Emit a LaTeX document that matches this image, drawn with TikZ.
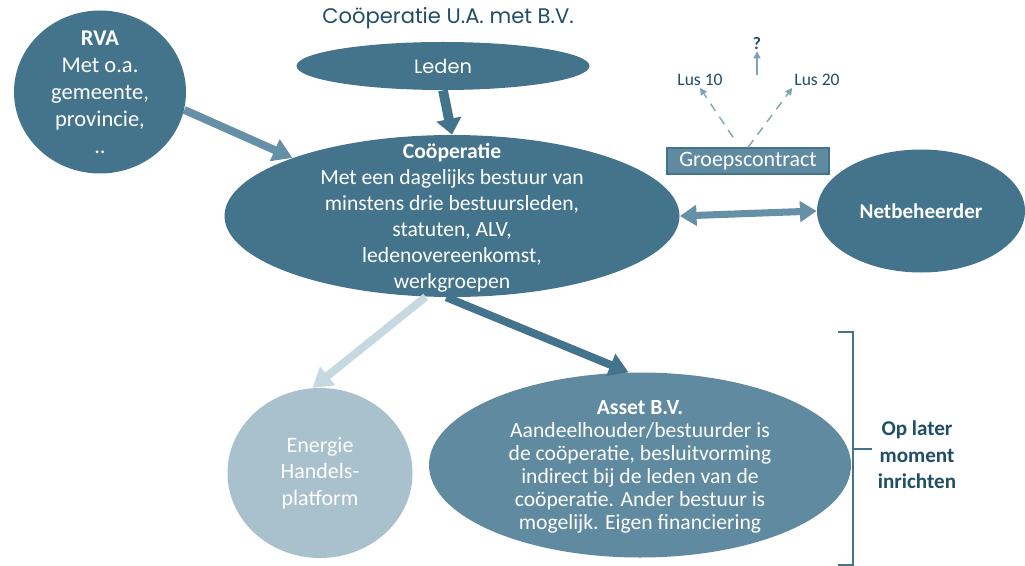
\documentclass[tikz,border=0pt]{standalone}
\usepackage{fontspec}
\setmainfont{Carlito}
\newfontfamily\poppins{Poppins}
\usetikzlibrary{arrows.meta,shapes.geometric,positioning}
\definecolor{inkblue}{HTML}{1F4E66}
\definecolor{coopblue}{HTML}{44748C}
\definecolor{assetblue}{HTML}{5F8AA0}
\definecolor{arrowblue}{HTML}{6590A6}
\definecolor{paleblue}{HTML}{A9C1CC}
\definecolor{palearrow}{HTML}{C6D9E1}
\definecolor{dashblue}{HTML}{7FA3B6}
\tikzset{
    blob/.style={
    ellipse,fill=coopblue,inner sep=0pt
    },
    blobtext/.style={
    align=center,text=white,inner sep=0pt,font=\fontsize{12.3}{14.8}\selectfont
    },
    fat/.style={
    line width=4.5pt,draw=arrowblue,-{Triangle[length=11pt,width=13pt]}
    },
    loop/.style={
    dashed,dash pattern=on 5pt off 4pt,line width=0.8pt,draw=dashblue,-{Triangle[length=4pt,width=4pt]}
    },
    lusname/.style={
    text=inkblue,font=\fontsize{10}{12}\selectfont,inner sep=1pt
    },
}
\begin{document}
\begin{tikzpicture}
  \useasboundingbox (0,0) rectangle (20.5,-11.32);
  \node[text=inkblue,font=\poppins\fontsize{12}{14}\selectfont] (title) at (8.96,-0.36) {Coöperatie U.A. met B.V.};

  \node[blob,minimum width=3.44cm,minimum height=3.26cm] (rva) at (2.0,-1.84) {};
  \node[blobtext,font=\fontsize{12.8}{15.4}\selectfont] (rvatext) at (rva) {\textbf{RVA}\\Met o.a.\\gemeente,\\provincie,\\..};

  \node[blob,minimum width=5.86cm,minimum height=0.96cm] (leden) at (8.86,-1.32) {};
  \node[blobtext,font=\poppins\fontsize{11}{13}\selectfont] (ledentext) at (leden) {Leden};

  \node[blob,minimum width=9.1cm,minimum height=3.24cm] (coop) at (9.04,-4.32) {};
  \node[blobtext] (cooptext) at (9.04,-4.36) {\textbf{Coöperatie}\\Met een dagelijks bestuur van\\minstens drie bestuursleden,\\statuten, ALV,\\ledenovereenkomst,\\werkgroepen};

  \node[blob,minimum width=4.16cm,minimum height=2.46cm] (net) at (18.42,-4.22) {};
  \node[blobtext,font=\bfseries\fontsize{12}{15}\selectfont] (nettext) at (net) {Netbeheerder};

  \node[fill=assetblue,draw=coopblue,line width=0.8pt,minimum width=3.24cm,minimum height=0.52cm,inner sep=0pt,text=white,font=\fontsize{12.5}{14}\selectfont] (groep) at (14.96,-3.22) {Groepscontract};

  \node[lusname] (lus10) at (14.0,-1.6) {Lus 10};
  \node[lusname] (lus20) at (16.34,-1.6) {Lus 20};
  \node[lusname,font=\bfseries\fontsize{10}{12}\selectfont] (vraag) at (15.14,-0.86) {?};
  \coordinate (vraagvoet) at (15.14,-1.5);

  \node[blob,fill=paleblue,minimum width=3.7cm,minimum height=3.4cm] (energie) at (6.4,-9.46) {};
  \node[blobtext,font=\fontsize{12.5}{15}\selectfont] (energietext) at (energie) {Energie\\Handels-\\platform};

  \node[blob,fill=assetblue,minimum width=8.44cm,minimum height=3.7cm] (asset) at (12.8,-9.3) {};
  \node[blobtext,font=\fontsize{12.3}{13.1}\selectfont] (assettext) at (12.8,-9.34) {\textbf{Asset B.V.}\\Aandeelhouder/bestuurder is\\de coöperatie, besluitvorming\\indirect bij de leden van de\\coöperatie. Ander bestuur is\\mogelijk. Eigen financiering};

  \node[align=center,text=inkblue,font=\bfseries\fontsize{12}{15}\selectfont] (later) at (18.34,-9.1) {Op later\\moment\\inrichten};
  \coordinate (brtop) at (17.06,-6.64);
  \coordinate (brbot) at (17.06,-11.3);
  \coordinate (brmid) at (17.06,-8.98);

  \draw[fat] (rva.-12) -- (coop.160);
  \draw[fat,line width=5.5pt,draw=coopblue,-{Triangle[length=9pt,width=14pt]}] (leden.south) -- (coop.north);
  \draw[fat,line width=4pt,{Triangle[length=9.5pt,width=11.5pt]}-{Triangle[length=9.5pt,width=11.5pt]}] (coop.east) -- (net.west);
  \draw[fat,draw=palearrow] (coop.-108) -- (energie.95);
  \draw[fat,draw=coopblue] (coop.-94) -- (asset.97);

  \draw[loop] (groep.north) ++(-0.3,0.2) -- (lus10.south);
  \draw[loop] (groep.north) -- (lus20.south west);
  \draw[loop,solid] (vraagvoet) -- (vraag.south);

  \draw[draw=coopblue,line width=1pt] (16.76,-6.64) -- (brtop) -- (brbot) -- (16.76,-11.3);
  \draw[draw=coopblue,line width=1pt] (brmid) -- (later.west |- brmid);
\end{tikzpicture}
\end{document}
